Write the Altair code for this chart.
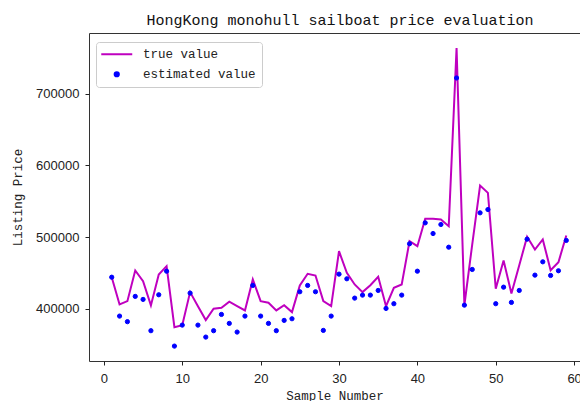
import altair as alt
import pandas as pd

sample = list(range(1, 60))
true_value = [444000, 406000, 410600, 453400, 438500, 404600, 447800, 459400, 374300, 377100,
              423200, 403600, 384100, 400000, 401400, 409800, 403600, 397600, 440900, 410600,
              408400, 397600, 405000, 395300, 432500, 448800, 446400, 410600, 403600, 480300,
              450200, 433900, 423200, 432900, 444600, 403600, 429300, 433900, 494300, 487300,
              525500, 525500, 524500, 515200, 764000, 405000, 490000, 572000, 561800, 427900,
              467400, 421300, 460800, 500400, 482700, 496700, 453800, 465000, 502200]
estimated_value = [444000, 389700, 381900, 417200, 413000, 369300, 419500, 452400, 347800, 377100,
                   421800, 377100, 360400, 369300, 392000, 379500, 367400, 389700, 432500, 389700,
                   379500, 369300, 383700, 386000, 423700, 432500, 423700, 369700, 389700, 448300,
                   441800, 414800, 419000, 419000, 425500, 400400, 407000, 419000, 490700, 452400,
                   519900, 505000, 517600, 485900, 722200, 405000, 454800, 533900, 538500, 407000,
                   430100, 408800, 425500, 497100, 446900, 465500, 446400, 453000, 495300]
series_names = ["true value", "estimated value"]
x_ticks = [0, 10, 20, 30, 40, 50, 60]
y_ticks = [400000, 500000, 600000, 700000]

true_df = pd.DataFrame({"sample": sample, "price": true_value, "series": series_names[0]})
est_df = pd.DataFrame({"sample": sample, "price": estimated_value, "series": series_names[1]})

MAG = "#bf00bf"
BLUE = "#0000ff"
MONO = "Liberation Mono"

xscale = alt.Scale(domain=[-1.9, 60.75], nice=False, zero=False)
yscale = alt.Scale(domain=[327000, 785000], nice=False, zero=False)

xaxis = alt.Axis(values=x_ticks, title="Sample Number", grid=False, domain=False,
                 tickSize=4, tickColor="#222", labelFont="Liberation Sans", labelFontSize=13,
                 labelColor="#222", labelPadding=7, titleFont=MONO, titleFontSize=12.5,
                 titleFontWeight="normal", titleColor="#222", titlePadding=4, labelFlush=False)
yaxis = alt.Axis(values=y_ticks, format="d", title="Listing Price", grid=False, domain=False,
                 tickSize=4, tickColor="#222", labelFont="Liberation Sans", labelFontSize=13,
                 labelColor="#222", labelPadding=6, titleFont=MONO, titleFontSize=12.5,
                 titleFontWeight="normal", titleColor="#222", titlePadding=11)

line = alt.Chart(true_df).mark_line(color=MAG, strokeWidth=2).encode(
    x=alt.X("sample:Q", scale=xscale, axis=xaxis),
    y=alt.Y("price:Q", scale=yscale, axis=yaxis),
)

legend = alt.Legend(title=None, orient="none", legendX=7, legendY=9, padding=6,
                    fillColor="rgba(255,255,255,0.8)", strokeColor="#cccccc", cornerRadius=3,
                    labelFont=MONO, labelFontSize=12.5, labelColor="#222", labelOffset=20,
                    symbolOffset=8.5, rowPadding=7, symbolStrokeWidth=2)

points = alt.Chart(est_df).mark_point(filled=True, strokeWidth=1, opacity=1).encode(
    x=alt.X("sample:Q", scale=xscale),
    y=alt.Y("price:Q", scale=yscale),
    color=alt.Color("series:N", scale=alt.Scale(domain=series_names, range=[MAG, BLUE]), legend=legend),
    stroke=alt.Stroke("series:N", scale=alt.Scale(domain=series_names, range=[MAG, BLUE]), legend=legend),
    shape=alt.Shape("series:N", scale=alt.Scale(domain=series_names, range=["M-3.1,0L3.1,0", "circle"]), legend=legend),
    size=alt.Size("series:N", scale=alt.Scale(domain=series_names, range=[100, 18]), legend=legend),
)

chart = alt.layer(line, points).properties(
    width=491, height=328,
    title=alt.TitleParams("HongKong monohull sailboat price evaluation", font=MONO, fontSize=15,
                          fontWeight="normal", anchor="middle", baseline="alphabetic", offset=7,
                          dx=5.5, dy=14, color="#111"),
    autosize=alt.AutoSizeParams(type="none"),
    padding={"left": 89, "top": 33, "right": 0, "bottom": 40},
).configure_view(stroke="#333", strokeWidth=1)

chart.save("out.html", embed_options={"renderer": "svg", "actions": False})
